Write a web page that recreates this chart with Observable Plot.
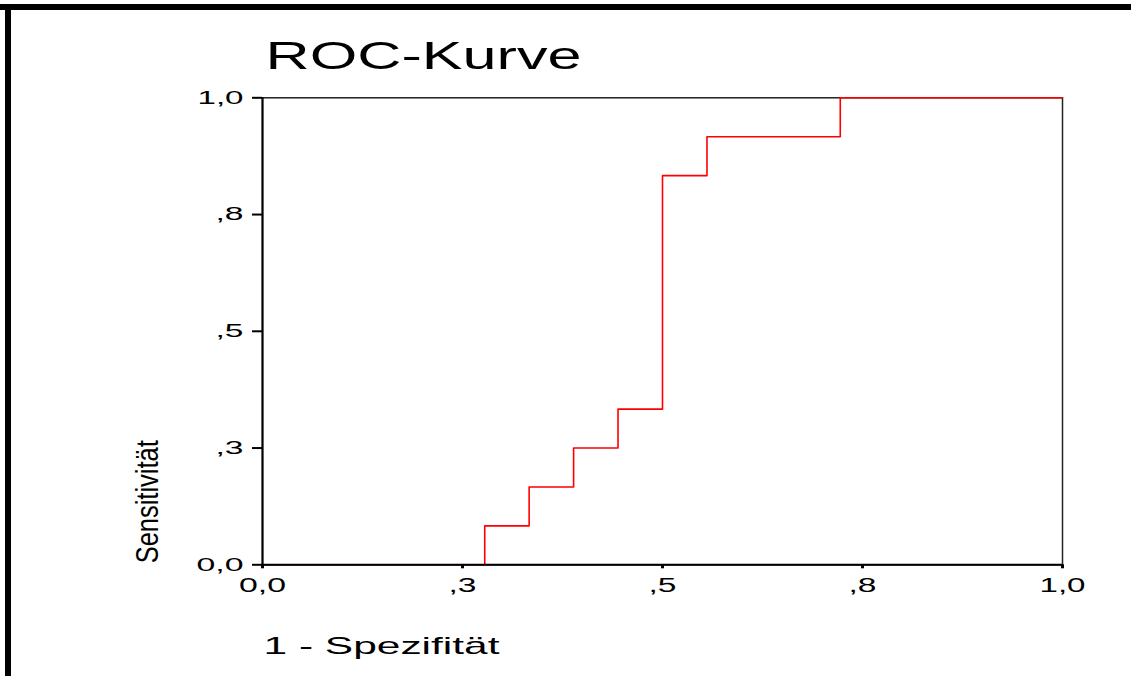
<!DOCTYPE html>
<html><head><meta charset="utf-8">
<script src="https://cdn.jsdelivr.net/npm/d3@7"></script>
<script src="https://cdn.jsdelivr.net/npm/@observablehq/plot@0.6"></script>
<style>
html,body{margin:0;padding:0;background:#fff;}
#wrap{position:relative;width:1131px;height:676px;overflow:hidden;background:#fff;}
#chart{position:absolute;left:0;top:0;}
.bar{position:absolute;background:#000;}
</style></head><body>
<div id="wrap">
<div id="chart"></div>
<div class="bar" style="left:0;top:4px;width:1131px;height:6px"></div>
<div class="bar" style="left:5px;top:4px;width:6px;height:672px"></div>
</div>
<script>
const title = "ROC-Kurve";
const xTitle = "1 - Spezifität";
const yTitle = "Sensitivität";
// ROC curve points: 1 - specificity (x) and sensitivity (y)
const fpr = [0, 0.0556, 0.1111, 0.1667, 0.2222, 0.2778, 0.2778, 0.3333, 0.3333, 0.3889, 0.3889, 0.4444, 0.4444, 0.5, 0.5, 0.5556, 0.5556, 0.6111, 0.6667, 0.7222, 0.7222, 0.7778, 0.8333, 0.8889, 0.9444, 1];
const tpr = [0, 0, 0, 0, 0, 0, 0.0833, 0.0833, 0.1667, 0.1667, 0.25, 0.25, 0.3333, 0.3333, 0.8333, 0.8333, 0.9167, 0.9167, 0.9167, 0.9167, 1, 1, 1, 1, 1, 1];
const xTicks = [0, 0.25, 0.5, 0.75, 1];
const xTickLabels = ["0,0", ",3", ",5", ",8", "1,0"];
const yTicks = [0, 0.25, 0.5, 0.75, 1];
const yTickLabels = ["0,0", ",3", ",5", ",8", "1,0"];

const points = fpr.map((x, i) => ({x, y: tpr[i]}));
const xFmt = new Map(xTicks.map((t, i) => [t, xTickLabels[i]]));
const yFmt = new Map(yTicks.map((t, i) => [t, yTickLabels[i]]));

const mT = 97.3, mB = 676 - 564.3, mL = 262, mR = 1131 - 1062;

const chart = Plot.plot({
  width: 1131, height: 676,
  marginLeft: mL, marginRight: mR, marginTop: mT, marginBottom: mB,
  x: {domain: [0, 1]},
  y: {domain: [0, 1]},
  style: {fontFamily: "'Liberation Sans', Arial, sans-serif", background: "white", color: "black"},
  marks: [
    Plot.frame({stroke: "#222", strokeWidth: 1.5}),
    Plot.line(points, {x: "x", y: "y", stroke: "#ff0000", strokeWidth: 1.6}),
    Plot.ruleX([0], {stroke: "black", strokeWidth: 2}),
    Plot.ruleY([0], {stroke: "black", strokeWidth: 2}),
    Plot.axisY(yTicks, {tickFormat: d => yFmt.get(d), tickSize: 10, tickPadding: 9, strokeWidth: 2, fontSize: 18, label: null}),
    Plot.axisX(xTicks, {tickFormat: d => xFmt.get(d), tickSize: 4, tickPadding: 9, strokeWidth: 3, fontSize: 20, label: null}),
    Plot.text([title], {frameAnchor: "top-left", textAnchor: "start", lineAnchor: "bottom", dx: 3, dy: 68.3 - mT, fontSize: 39.5}),
    Plot.text([xTitle], {frameAnchor: "bottom-left", textAnchor: "start", lineAnchor: "bottom", dx: 1, dy: 653 - 564.3, fontSize: 24}),
    Plot.text([yTitle], {frameAnchor: "bottom-left", textAnchor: "start", lineAnchor: "bottom", rotate: -90, dx: 157 - mL, dy: -1.5, fontSize: 32})
  ]
});
document.getElementById("chart").appendChild(chart);

const svg = d3.select(chart);
const lengths = new Map([[title, 316], [xTitle, 236], [yTitle, 123], ["0,0", 47], ["1,0", 46], [",3", 28], [",5", 28], [",8", 28]]);
svg.selectAll("text").each(function() {
  const len = lengths.get(this.textContent);
  if (len) d3.select(this).attr("textLength", len).attr("lengthAdjust", "spacingAndGlyphs");
});
</script>
</body></html>
